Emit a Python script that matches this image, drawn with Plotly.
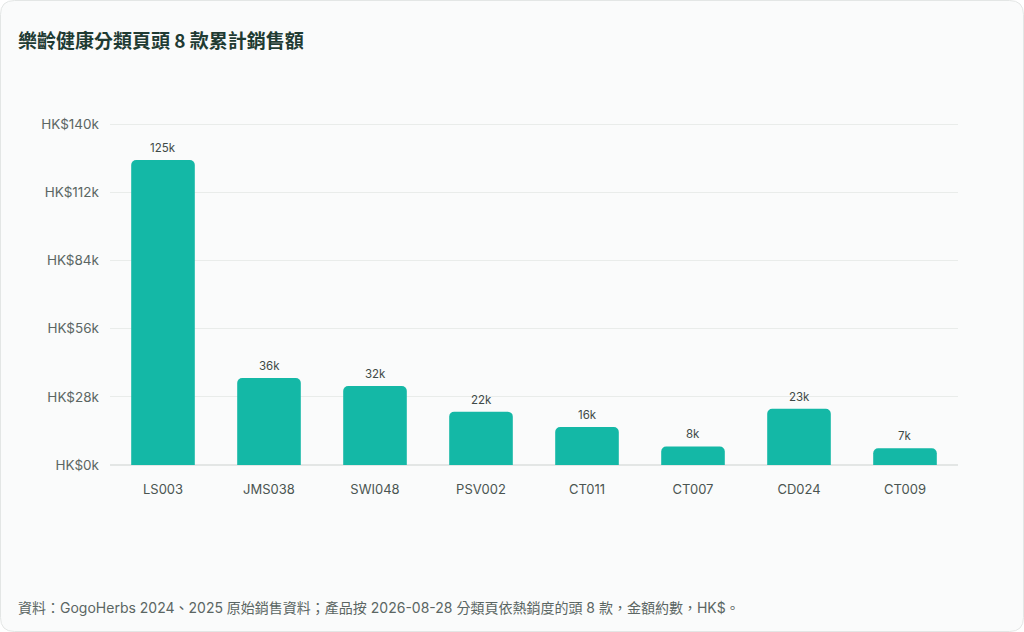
import plotly.graph_objects as go

# dati (HK$)
products = ['LS003', 'JMS038', 'SWI048', 'PSV002', 'CT011', 'CT007', 'CD024', 'CT009']
sales = [125200, 35700, 32400, 21900, 15600, 7600, 23100, 6900]
tick_vals = [0, 28000, 56000, 84000, 112000, 140000]
tick_text = ['HK$0k', 'HK$28k', 'HK$56k', 'HK$84k', 'HK$112k', 'HK$140k']

title = '樂齡健康分類頁頭 8 款累計銷售額'
footnote = '資料：GogoHerbs 2024、2025 原始銷售資料；產品按 2026-08-28 分類頁依熱銷度的頭 8 款，金額約數，HK$。'

W, H = 1024, 632
ML, MR, MT, MB = 110, 66, 112, 167
PW, PH = W - ML - MR, H - MT - MB

font = 'Inter, "Noto Sans CJK TC", sans-serif'


def px(x):
    return (x - ML) / PW


def py(y):
    return (H - MB - y) / PH


# bordo arrotondato della card
r = 14
x0, y0, x1, y1 = 0.5, 0.5, W - 0.5, H - 0.5
pts = [
    f'M {px(x0 + r)},{py(y0)}',
    f'L {px(x1 - r)},{py(y0)}',
    f'Q {px(x1)},{py(y0)} {px(x1)},{py(y0 + r)}',
    f'L {px(x1)},{py(y1 - r)}',
    f'Q {px(x1)},{py(y1)} {px(x1 - r)},{py(y1)}',
    f'L {px(x0 + r)},{py(y1)}',
    f'Q {px(x0)},{py(y1)} {px(x0)},{py(y1 - r)}',
    f'L {px(x0)},{py(y0 + r)}',
    f'Q {px(x0)},{py(y0)} {px(x0 + r)},{py(y0)} Z',
]
card_path = ' '.join(pts)

fig = go.Figure()
fig.add_trace(go.Bar(
    x=products,
    y=sales,
    marker=dict(color='#14b8a6', cornerradius=5, line=dict(width=0)),
    hovertemplate='%{x}: HK$%{y:,.0f}<extra></extra>',
))

# etichette sopra le barre
for p, v in zip(products, sales):
    fig.add_annotation(x=p, y=v, text=f'{round(v / 1000)}k', showarrow=False,
                       yanchor='bottom', yshift=3,
                       font=dict(size=11.5, color='#3f4a47', family=font))

fig.add_shape(type='path', path=card_path, xref='paper', yref='paper',
              fillcolor='#fafbfb', line=dict(color='#e3e6e5', width=1), layer='below')

fig.add_annotation(text=title, xref='paper', yref='paper', x=px(16), y=py(40),
                   xanchor='left', yanchor='middle', showarrow=False,
                   font=dict(size=19, color='#1f3b33', family='"Noto Sans CJK TC", sans-serif', weight='bold'))
fig.add_annotation(text=footnote, xref='paper', yref='paper', x=px(16), y=py(607),
                   xanchor='left', yanchor='middle', showarrow=False,
                   font=dict(size=14, color='#5b6663', family=font))

fig.update_layout(
    width=W, height=H,
    margin=dict(l=ML, r=MR, t=MT, b=MB),
    paper_bgcolor='white',
    plot_bgcolor='rgba(0,0,0,0)',
    bargap=0.4,
    showlegend=False,
    font=dict(family=font),
    xaxis=dict(showgrid=False, showline=False, ticks='', ticklabelstandoff=15,
               tickfont=dict(size=13, color='#4a5551')),
    # un po' di spazio sopra i 140k perché la griglia in cima resti visibile
    yaxis=dict(range=[0, 144926], tickvals=tick_vals, ticktext=tick_text,
               gridcolor='#e9ecea', gridwidth=1, zeroline=True, zerolinecolor='#e3e6e5',
               showline=False, ticks='', ticklabelstandoff=10,
               tickfont=dict(size=13.5, color='#5b6663')),
)

fig.write_html('out.html', config={'displayModeBar': False},
               post_script="document.body.style.margin='0';")
